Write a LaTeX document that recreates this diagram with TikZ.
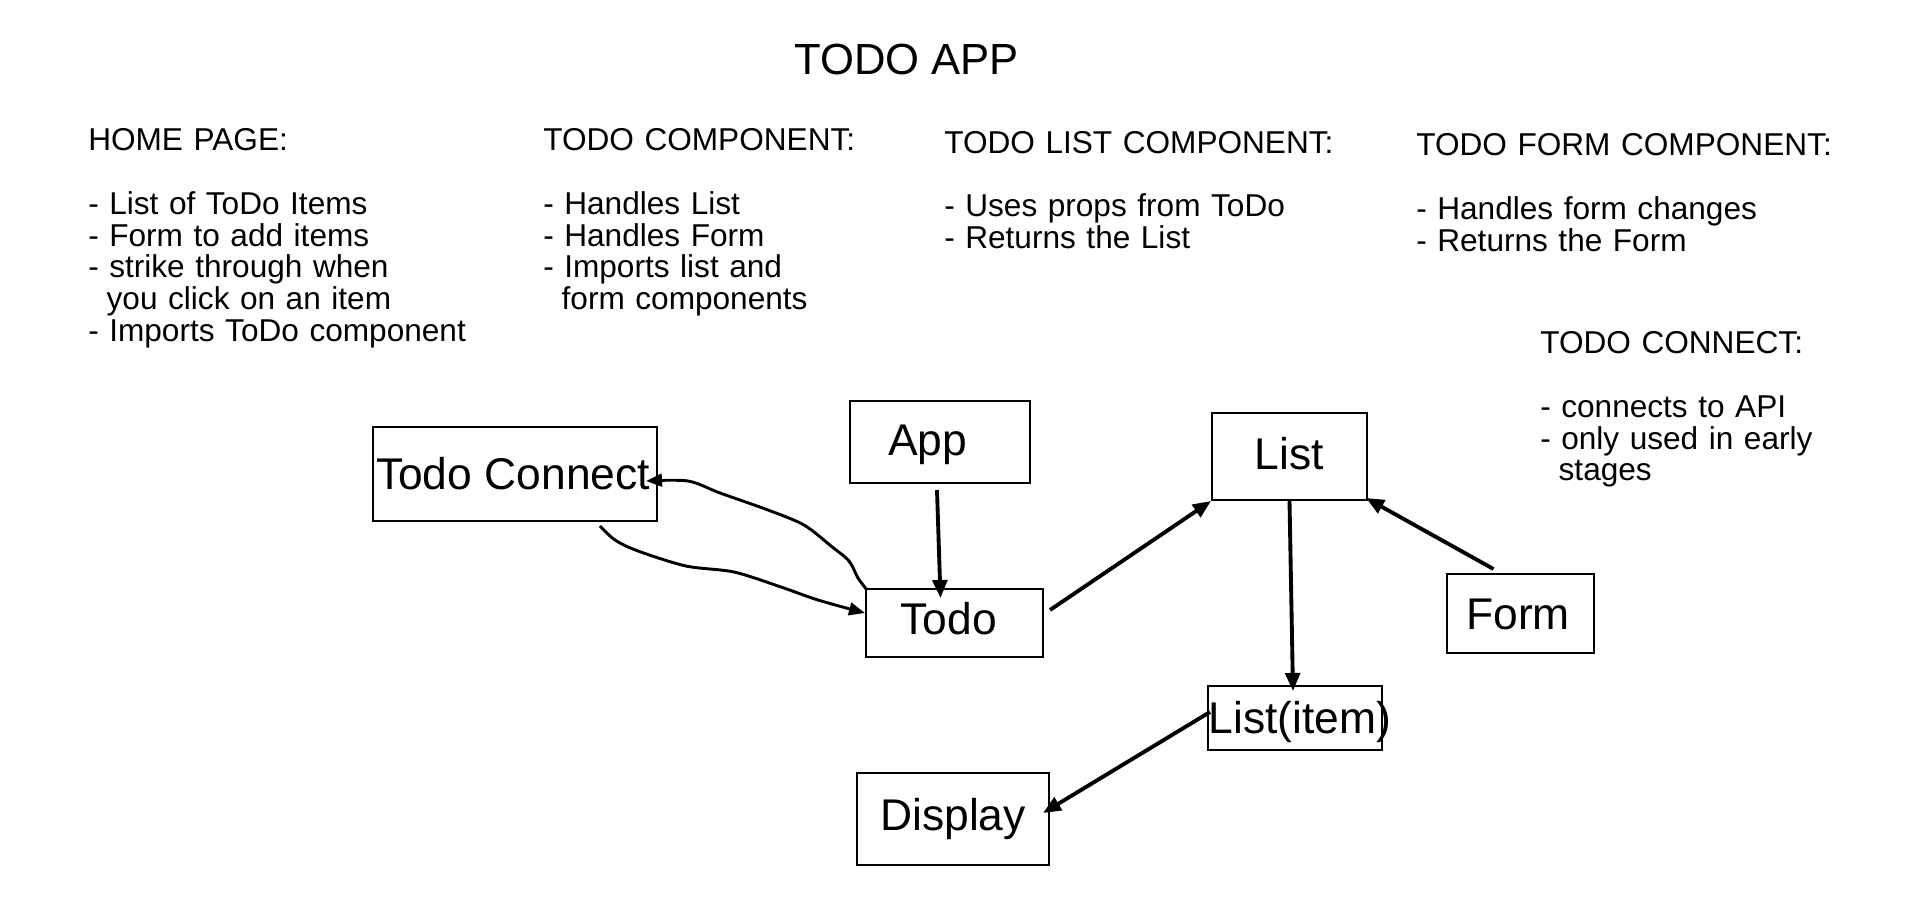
\documentclass[tikz,border=0pt]{standalone}
\usepackage{fontspec}
\setmainfont{Liberation Sans}
\usetikzlibrary{arrows.meta,calc}
\newcommand\myind{\hspace*{13.8pt}}
\newcommand\padr[1]{\rule{#1}{0pt}}
\begin{document}
\begin{tikzpicture}[x=0.75pt,y=-0.75pt,
  box/.style={draw, line width=1.5pt, inner sep=0pt,
    font=\fontsize{33.3}{37}\selectfont, text height=23.85pt, text depth=0pt},
  txt/.style={anchor=base west, inner sep=0pt, align=left, text width=400pt,
    font=\fontsize{23.7}{23.85}\selectfont},
  ttl/.style={anchor=base west, inner sep=0pt, font=\fontsize{32.7}{36}\selectfont},
  arr/.style={line width=2.9pt, -{Triangle[length=13.5pt,width=11pt]}},
  curve/.style={line width=2.2pt, line join=round, -{Triangle[length=12pt,width=9.5pt]}},
]
\useasboundingbox[fill=white] (0,0) rectangle (1920,907);

% texts
\node[ttl] (title) at (794,74) {TODO APP};
\node[txt] (home) at (88,150.7) {HOME PAGE:\\[23.85pt]- List of ToDo Items\\- Form to add items\\- strike through when\\\myind you click on an item\\- Imports ToDo component};
\node[txt] (tcomp) at (543,150.7) {TODO COMPONENT:\\[23.85pt]- Handles List\\- Handles Form\\- Imports list and\\\myind form components};
\node[txt] (lcomp) at (944,153) {TODO LIST COMPONENT:\\[23.85pt]- Uses props from ToDo\\- Returns the List};
\node[txt] (fcomp) at (1416,155.6) {TODO FORM COMPONENT:\\[23.85pt]- Handles form changes\\- Returns the Form};
\node[txt] (ccomp) at (1540,353.7) {TODO CONNECT:\\[23.85pt]- connects to API\\- only used in early\\\myind stages};

% boxes
\node[box, minimum width=213pt, minimum height=70.5pt] (tc) at (515,474) {\makebox[0pt]{Todo Connect\padr{3pt}}};
\node[box, minimum width=135pt, minimum height=61.5pt, text depth=3pt] (app) at (940,442) {App\padr{18.75pt}};
\node[box, minimum width=116.25pt, minimum height=65.25pt, text depth=3.75pt] (list) at (1289.5,456.5) {List};
\node[box, minimum width=132.75pt, minimum height=51pt, text depth=6pt] (todo) at (954.5,623) {Todo\padr{8.5pt}};
\node[box, minimum width=110.25pt, minimum height=59.25pt] (form) at (1520.5,613.5) {Form\padr{3.75pt}};
\node[box, minimum width=130.5pt, minimum height=48pt] (listitem) at (1295,718) {\makebox[0pt]{\padr{7.5pt}List(item)}};
\node[box, minimum width=144pt, minimum height=69pt, text depth=6pt] (display) at (953,819) {Display};

% straight connectors
\draw[arr] ($(app.south)+(-3,6)$) -- ($(todo.north)+(-14,10)$);
\draw[arr] ($(todo.east)+(6,-13)$) -- (list.south west);
\draw[arr] ($(form.north)+(-27,-4)$) -- ($(list.south east)+(-2,-3)$);
\draw[arr] (list.south) -- ($(listitem.north)+(-2,6)$);
\draw[arr] ($(listitem.west)+(3,-6)$) -- ($(display.east)+(-7,-6)$);

% hand drawn curves
\coordinate (u0) at ($(todo.north west)+(2,2)$);
\coordinate (u9) at ($(tc.east)+(-12,7)$);
\draw[curve] plot[smooth, tension=0.5] coordinates {(u0) (858,578) (849,561) (831,546) (804,525) (768,510) (720,493) (688,481) (u9)};
\coordinate (l0) at ($(tc.south)+(85,4)$);
\coordinate (l9) at ($(todo.west)+(0,-10)$);
\draw[curve] plot[smooth, tension=0.5] coordinates {(l0) (615,540) (638,551) (686,566) (734,572) (781,587) (818,600) (l9)};
\end{tikzpicture}
\end{document}
